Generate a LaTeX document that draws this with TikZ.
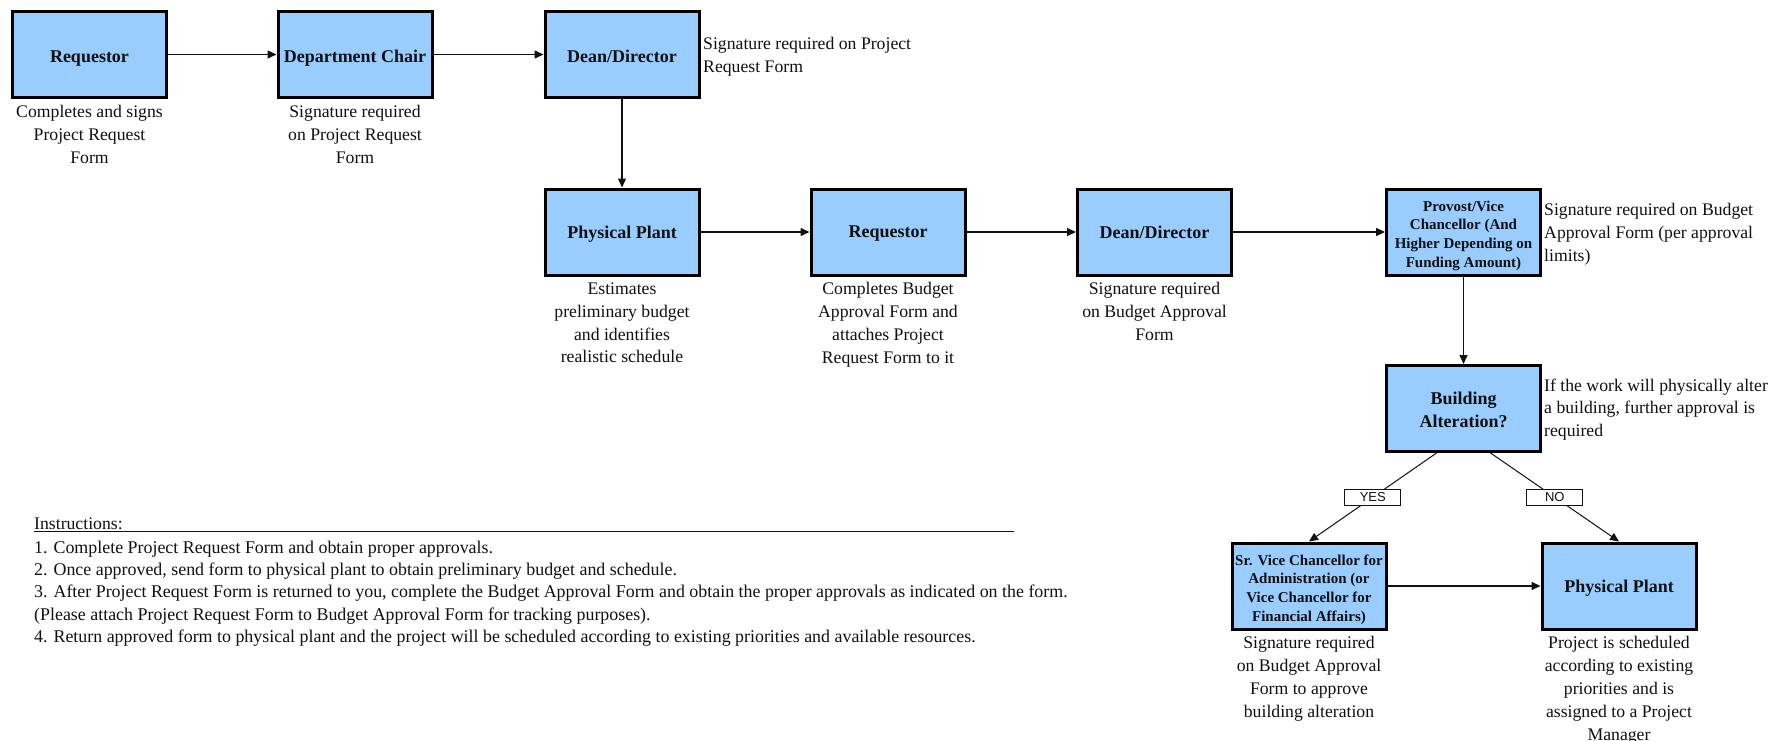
\documentclass[tikz,border=0pt]{standalone}
\usepackage{fontspec}
\setmainfont{Liberation Serif}
\newfontfamily\tagsans{Liberation Sans}
\usetikzlibrary{arrows.meta,calc,positioning}
\definecolor{planblue}{HTML}{99CCFF}
\definecolor{planink}{HTML}{111111}

\begin{document}
\begin{tikzpicture}[x=1pt,y=-1pt,>={Triangle[length=9pt,width=8pt]},
  line cap=butt,text=planink,
  font=\fontsize{17.7}{22.8}\selectfont,
  stage/.style={draw=black,line width=3pt,fill=planblue,minimum width=154pt,minimum height=86pt,
    inner sep=1pt,align=center,text depth=0pt,font=\fontsize{18}{23}\selectfont\bfseries},
  small/.style={text height=71pt,font=\fontsize{15}{18.8}\selectfont\bfseries},
  lowtext/.style={text height=16.5pt},
  note/.style={inner sep=0pt,align=center},
  side/.style={inner sep=0pt,align=left,anchor=north west},
  flow/.style={->,line width=1.4pt,draw=planink},
  choice/.style={draw=planink,line width=1pt,fill=white,minimum width=56pt,minimum height=16pt,
    inner sep=0pt,font=\tagsans\fontsize{13}{13}\selectfont}]
\path[use as bounding box] (0,0) rectangle (1787,741);
\fill[white] (0,0) rectangle (1787,741);

% first row: project request form
\node[stage,lowtext] (req1) at (89.5,54.5) {Requestor};
\node[stage,lowtext] (chair) at (355,54.5) {Department Chair};
\node[stage,lowtext] (dean1) at (622,54.5) {Dean/Director};
\node[note,below=6pt of req1] (req1note) {Completes and signs\\Project Request\\Form};
\node[note,below=6pt of chair] (chairnote) {Signature required\\on Project Request\\Form};
\node[side] (dean1side) at (703,37.5) {Signature required on Project\\Request Form};

% second row: budget approval form
\node[stage] (plant1) at (622,232) {Physical Plant};
\node[stage] (req2) at (888,232) {Requestor};
\node[stage] (dean2) at (1154.5,232) {Dean/Director};
\node[stage,small] (prov) at (1463.5,232) {Provost/Vice\\Chancellor (And\\Higher Depending on\\Funding Amount)};
\node[note,below=6pt of plant1] (plant1note) {Estimates\\preliminary budget\\and identifies\\realistic schedule};
\node[note,below=6pt of req2] (req2note) {Completes Budget\\Approval Form and\\attaches Project\\Request Form to it};
\node[note,below=6pt of dean2] (dean2note) {Signature required\\on Budget Approval\\Form};
\node[side] (provside) at (1544,203.5) {Signature required on Budget\\Approval Form (per approval\\limits)};

% building alteration branch
\node[stage,text height=38.5pt] (alter) at (1463.5,408.5) {Building\\Alteration?};
\node[side] (alterside) at (1544,378.5) {If the work will physically alter\\a building, further approval is\\required};
\node[stage,small] (svc) at (1309,586) {Sr. Vice Chancellor for\\Administration (or\\Vice Chancellor for\\Financial Affairs)};
\node[stage] (plant2) at (1619,586) {Physical Plant};
\node[note,below=6pt of svc] (svcnote) {Signature required\\on Budget Approval\\Form to approve\\building alteration};
\node[note,below=6pt of plant2] (plant2note) {Project is scheduled\\according to existing\\priorities and is\\assigned to a Project\\Manager};

% connectors
\draw[flow] (req1) -- (chair);
\draw[flow] (chair) -- (dean1);
\draw[flow] (dean1) -- (plant1);
\draw[flow] (plant1) -- (req2);
\draw[flow] (req2) -- (dean2);
\draw[flow] (dean2) -- (prov);
\draw[flow] (prov) -- (alter);
\draw[flow] (svc) -- (plant2);
\coordinate (yesfrom) at ($(alter.south)+(-27,0)$);
\coordinate (nofrom) at ($(alter.south)+(27,0)$);
\draw[flow,line width=1pt] (yesfrom) -- node[choice] {YES} (svc.north);
\draw[flow,line width=1pt] (nofrom) -- node[choice] {NO} (plant2.north);

% instructions
\node[side] (head) at (34,517.5) {Instructions:};
\draw[line width=1.2pt,draw=planink] (head.south west) ++(0,1.5) -- ++(980,0);
\node[side,font=\fontsize{17.9}{22.3}\selectfont] (steps) at (34,540.5) {1. Complete Project Request Form and obtain proper approvals.\\
2. Once approved, send form to physical plant to obtain preliminary budget and schedule.\\
3. After Project Request Form is returned to you, complete the Budget Approval Form and obtain the proper approvals as indicated on the form.\\
(Please attach Project Request Form to Budget Approval Form for tracking purposes).\\
4. Return approved form to physical plant and the project will be scheduled according to existing priorities and available resources.};
\end{tikzpicture}
\end{document}
